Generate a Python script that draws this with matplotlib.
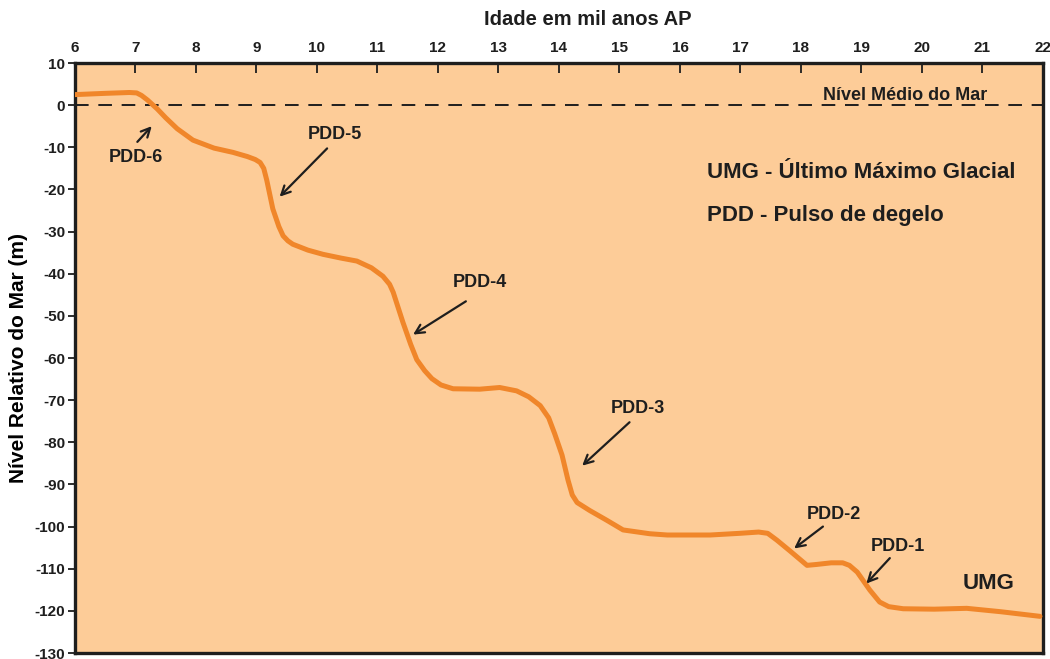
import numpy as np
import matplotlib.pyplot as plt

plt.rcParams['font.family'] = ['Liberation Sans', 'DejaVu Sans']
plt.rcParams['font.weight'] = 'bold'
plt.rcParams['axes.unicode_minus'] = False

# curva do nivel relativo do mar (idade em mil anos AP, nivel em m)
idade = [6.0, 6.5, 6.9, 7.02, 7.1, 7.2, 7.36, 7.5, 7.69, 7.95, 8.3, 8.61, 8.85, 8.98, 9.06,
         9.12, 9.17, 9.27, 9.37, 9.44, 9.52, 9.6, 9.85, 10.1, 10.4, 10.66, 10.9, 11.09,
         11.2, 11.26, 11.42, 11.55, 11.65, 11.78, 11.9, 12.05, 12.25, 12.69, 13.02, 13.3,
         13.5, 13.69, 13.83, 13.93, 14.05, 14.15, 14.22, 14.3, 14.51, 14.79, 15.06, 15.5,
         15.79, 16.5, 16.99, 17.3, 17.45, 17.6, 17.82, 18.1, 18.25, 18.5, 18.69, 18.8,
         18.93, 19.14, 19.3, 19.45, 19.69, 20.2, 20.74, 21.3, 21.95]
nivel = [2.5, 2.8, 3.0, 2.9, 2.3, 1.2, -0.9, -3.0, -5.6, -8.3, -10.2, -11.2, -12.2, -12.9,
         -13.6, -15.0, -17.8, -24.6, -28.8, -31.0, -32.2, -33.0, -34.4, -35.4, -36.3, -37.0,
         -38.6, -40.6, -42.5, -44.4, -51.5, -56.8, -60.4, -63.0, -64.9, -66.4, -67.3, -67.4,
         -67.0, -67.8, -69.2, -71.3, -74.2, -78.0, -83.0, -89.0, -92.5, -94.3, -96.2, -98.5,
         -100.8, -101.7, -102.0, -102.0, -101.6, -101.3, -101.6, -103.2, -105.8, -109.2,
         -109.0, -108.6, -108.6, -109.2, -110.8, -115.1, -117.9, -119.0, -119.5, -119.6,
         -119.4, -120.2, -121.3]

xticks = list(range(6, 23))
yticks = list(range(-130, 11, 10))

# rotulos dos pulsos de degelo: texto, posicao do texto, inicio e ponta da seta
pdd_nomes = ['PDD-6', 'PDD-5', 'PDD-4', 'PDD-3', 'PDD-2', 'PDD-1']
pdd_texto = [(7.0, -12.4), (10.3, -7.0), (12.7, -42.0), (15.3, -72.0), (18.55, -97.2), (19.6, -104.8)]
pdd_cauda = [(7.0, -9.2), (10.2, -9.8), (12.5, -46.2), (15.2, -74.8), (18.4, -99.6), (19.5, -107.0)]
pdd_ponta = [(7.3, -4.5), (9.35, -22.2), (11.55, -54.8), (14.35, -86.0), (17.85, -105.6), (19.05, -114.0)]

fundo = '#fdcc98'
laranja = '#f0862a'
escuro = '#1e1e1e'

fig = plt.figure(figsize=(10.5, 6.59), dpi=100)
ax = fig.add_axes([0.0714, 0.0091, 0.9219, 0.8953])
ax.set_facecolor(fundo)

ax.plot(idade, nivel, color=laranja, lw=3.6, solid_capstyle='round', solid_joinstyle='round', zorder=3)
ax.axhline(0, color=escuro, lw=1.4, dashes=(7, 5), zorder=2)

ax.set_xlim(6, 22)
ax.set_ylim(-130, 10)
ax.set_xticks(xticks)
ax.set_yticks(yticks)
ax.xaxis.tick_top()
ax.tick_params(axis='x', direction='in', length=7, width=1.3, colors=escuro, labelsize=11, pad=6)
ax.tick_params(axis='y', direction='out', length=5, width=1.3, colors=escuro, labelsize=11, pad=2)
for s in ax.spines.values():
    s.set_linewidth(2.4)
    s.set_color(escuro)

# titulo do eixo x (acima dos rotulos, levemente deslocado para a direita como no original)
ax.text(14.48, 20.3, 'Idade em mil anos AP', fontsize=14.5, fontweight='bold',
        ha='center', va='center', color=escuro, clip_on=False)
ax.set_ylabel('Nível Relativo do Mar (m)', fontsize=15, fontweight='bold', labelpad=5)

ax.text(19.72, 2.2, 'Nível Médio do Mar', fontsize=13, fontweight='bold', ha='center', va='center', color=escuro)
ax.text(16.45, -16.0, 'UMG - Último Máximo Glacial', fontsize=16, fontweight='bold', ha='left', va='center', color=escuro)
ax.text(16.45, -26.2, 'PDD - Pulso de degelo', fontsize=16, fontweight='bold', ha='left', va='center', color=escuro)
ax.text(21.1, -113.5, 'UMG', fontsize=16, fontweight='bold', ha='center', va='center', color=escuro)

for nome, t, c, p in zip(pdd_nomes, pdd_texto, pdd_cauda, pdd_ponta):
    ax.text(t[0], t[1], nome, fontsize=13, fontweight='bold', ha='center', va='center', color=escuro, zorder=4)
    ax.annotate('', xy=p, xytext=c,
                arrowprops=dict(arrowstyle='->', color=escuro, lw=1.6, mutation_scale=16), zorder=4)

fig.savefig('out.png', dpi=100, facecolor='white')
